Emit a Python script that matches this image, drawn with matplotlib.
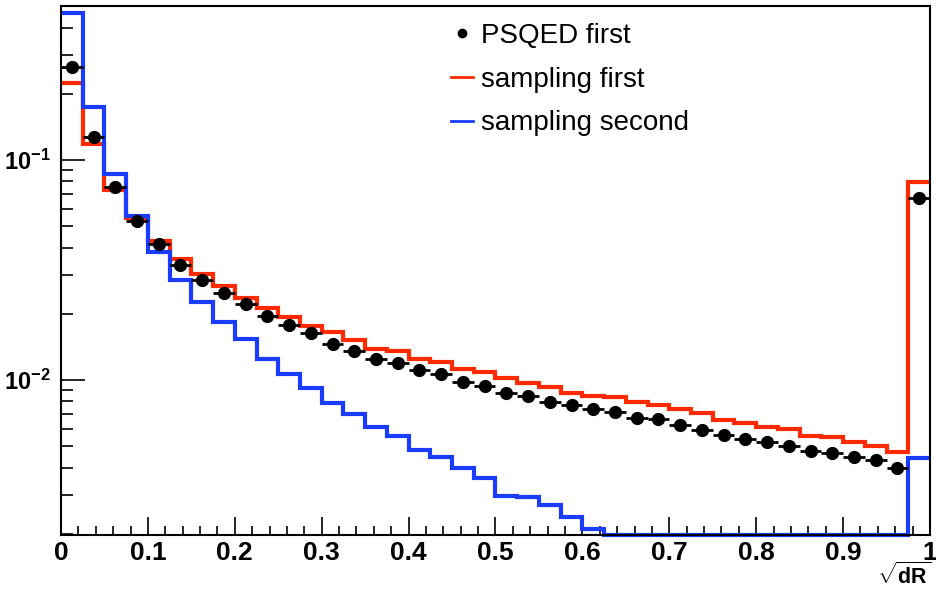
import numpy as np
import matplotlib
matplotlib.use("Agg")
import matplotlib.pyplot as plt
from matplotlib.lines import Line2D
from matplotlib.ticker import FixedLocator, FixedFormatter, LogLocator, NullFormatter

plt.rcParams['font.family'] = ['Liberation Sans', 'DejaVu Sans']
plt.rcParams['mathtext.fontset'] = 'custom'
plt.rcParams['mathtext.rm'] = 'Liberation Sans'
plt.rcParams['mathtext.bf'] = 'Liberation Sans:bold'
plt.rcParams['mathtext.it'] = 'Liberation Sans:italic'

# 40 bins de 0 a 1
bordas = np.linspace(0, 1, 41)
centros = 0.5 * (bordas[:-1] + bordas[1:])

psqed_first = [0.2655, 0.1276, 0.0756, 0.0526, 0.0415, 0.0333, 0.0285, 0.0248,
               0.0221, 0.0196, 0.01778, 0.0163, 0.01458, 0.01359, 0.01245, 0.01191,
               0.0111, 0.01062, 0.00982, 0.00941, 0.00875, 0.00849, 0.00797, 0.0077,
               0.00736, 0.00718, 0.0067, 0.00663, 0.00624, 0.00593, 0.00562, 0.00537,
               0.00521, 0.00501, 0.00476, 0.00464, 0.00448, 0.00433, 0.00397, 0.067]

sampling_first = [0.2239, 0.1186, 0.0731, 0.0543, 0.043, 0.0354, 0.0303, 0.0267,
                  0.02366, 0.0212, 0.01928, 0.01762, 0.01647, 0.0152, 0.01383, 0.01355,
                  0.01242, 0.01203, 0.01119, 0.01084, 0.01018, 0.00966, 0.00933, 0.00871,
                  0.00849, 0.00834, 0.00797, 0.0077, 0.00736, 0.00706, 0.00658, 0.00635,
                  0.00609, 0.00597, 0.00556, 0.00552, 0.00524, 0.00503, 0.00472, 0.0796]

sampling_second = [0.4677, 0.1746, 0.0864, 0.0556, 0.0383, 0.0285, 0.0227, 0.0184,
                   0.01535, 0.01245, 0.01062, 0.00923, 0.00784, 0.00698, 0.00614, 0.00558,
                   0.00481, 0.00448, 0.00397, 0.00357, 0.00297, 0.00293, 0.0027, 0.00239,
                   0.0021, 0, 0, 0, 0, 0, 0, 0,
                   0, 0, 0, 0, 0, 0, 0, 0.0044]

x_ticks = [0, 0.1, 0.2, 0.3, 0.4, 0.5, 0.6, 0.7, 0.8, 0.9, 1.0]
x_labels = ['0', '0.1', '0.2', '0.3', '0.4', '0.5', '0.6', '0.7', '0.8', '0.9', '1']
y_ticks = [1e-2, 1e-1]
y_labels = [r'$\mathbf{10^{-2}}$', r'$\mathbf{10^{-1}}$']

ymin, ymax = 0.001975, 0.501

fig = plt.figure(figsize=(9.37, 5.89), dpi=100)
ax = fig.add_axes([61/937, 1 - 535/589, 869/937, 529/589])

vermelho = '#ff2a00'
azul = '#1a3cff'

ax.stairs(sampling_first, bordas, baseline=None, color=vermelho, linewidth=3, zorder=2)
azul_plot = np.where(np.array(sampling_second) > 0, sampling_second, ymin)
ax.stairs(azul_plot, bordas, baseline=None, color=azul, linewidth=3,
          zorder=2, clip_on=False)
ax.errorbar(centros, psqed_first, xerr=0.0125, fmt='o', color='black',
            markersize=8.5, elinewidth=2, capsize=0, zorder=3)

ax.set_yscale('log')
ax.set_xlim(0, 1)
ax.set_ylim(ymin, ymax)

ax.xaxis.set_major_locator(FixedLocator(x_ticks))
ax.xaxis.set_major_formatter(FixedFormatter(x_labels))
ax.xaxis.set_minor_locator(FixedLocator(np.arange(0, 1.001, 0.02)))
ax.yaxis.set_major_locator(FixedLocator(y_ticks))
ax.yaxis.set_major_formatter(FixedFormatter(y_labels))
ax.yaxis.set_minor_locator(LogLocator(base=10, subs=np.arange(2, 10)))
ax.yaxis.set_minor_formatter(NullFormatter())

ax.tick_params(axis='x', which='major', direction='in', length=13, width=1.2,
               pad=4, labelsize=19)
ax.tick_params(axis='x', which='minor', direction='in', length=6.5, width=1.2)
ax.tick_params(axis='y', which='major', direction='in', length=17, width=1.2,
               pad=7, labelsize=17)
ax.tick_params(axis='y', which='minor', direction='in', length=8.5, width=1.2)
for lbl in ax.get_xticklabels():
    lbl.set_fontweight('bold')
for s in ax.spines.values():
    s.set_linewidth(1.5)

fig.text(931/937, 0.5/589, r'$\sqrt{\mathbf{dR}}$', ha='right', va='bottom',
         fontsize=15.5)

# legenda
h_psqed = Line2D([], [], marker='o', color='black', linestyle='none', markersize=6)
h_red = Line2D([], [], color=vermelho, linewidth=2)
h_blue = Line2D([], [], color=azul, linewidth=2)
ax.legend([h_psqed, h_red, h_blue], ['PSQED first', 'sampling first', 'sampling second'],
          loc='upper left', bbox_to_anchor=(437/937, 1 - 9/589),
          bbox_transform=fig.transFigure, frameon=False, fontsize=20,
          handlelength=0.8, handletextpad=0.3, labelspacing=0.64, borderpad=0)

fig.savefig('out.png', dpi=100)
